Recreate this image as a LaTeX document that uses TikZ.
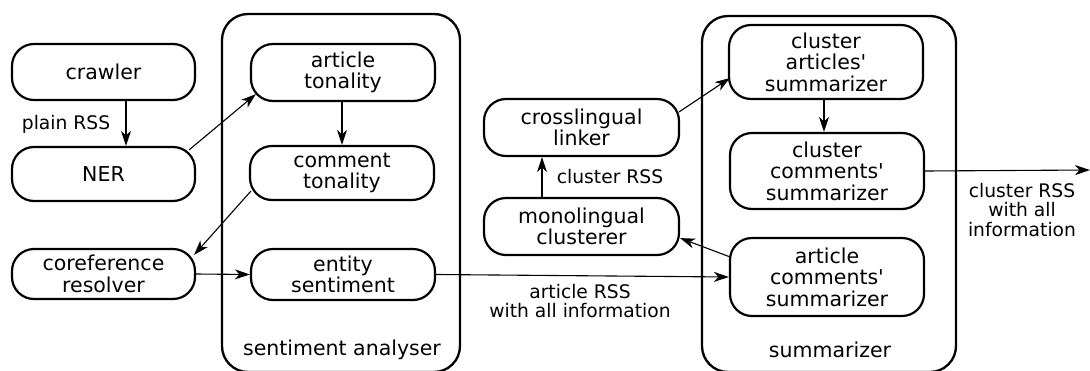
\documentclass[tikz,border=0pt]{standalone}
\usepackage{fontspec}
\setmainfont[Ligatures=TeXOff]{DejaVu Sans}
\usetikzlibrary{arrows.meta,calc}
\begin{document}
\begin{tikzpicture}[x=1pt,y=-1pt,
  every node/.style={font=\fontsize{20.5}{21.5}\selectfont, align=center, inner sep=0pt},
  proc/.style={draw, line width=2.2pt, rounded corners=22pt, minimum width=#1},
  proc/.default=183pt,
  group/.style={draw, line width=2.3pt, rounded corners=26pt},
  arr/.style={line width=1.1pt, -{Stealth[length=15pt,width=10pt,inset=4.5pt]}},
  lbl/.style={font=\fontsize{18.7}{19.5}\selectfont}
]
\useasboundingbox (0,0) rectangle (1090,370);
% containers
\node[group, minimum width=238pt, minimum height=358pt] (sa) at (341,193) {};
\node[group, minimum width=254pt, minimum height=356pt] (sum) at (829,194) {};
\node (salbl) at (342,350) {sentiment analyser};
\node (sumlbl) at (830,350) {summarizer};
% process nodes
\node[proc, minimum height=56pt] (crawler) at (103.5,72) {crawler};
\node[proc, minimum height=54pt] (ner) at (103.5,174) {NER};
\node[proc, minimum height=50pt] (coref) at (103.5,274) {coreference\\resolver};
\node[proc=184pt, minimum height=57pt] (at) at (343,72.5) {article\\tonality};
\node[proc=184pt, minimum height=54pt] (ct) at (342,173) {comment\\tonality};
\node[proc=184pt, minimum height=51pt] (es) at (343,274.5) {entity\\sentiment};
\node[proc=195pt, minimum height=57pt] (cross) at (581.5,127.5) {crosslingual\\linker};
\node[proc=195pt, minimum height=57pt] (mono) at (581.5,226.5) {monolingual\\clusterer};
\node[proc=194pt, minimum height=74pt] (cas) at (826,62) {cluster\\articles'\\summarizer};
\node[proc=194pt, minimum height=76pt] (ccs) at (827,171) {cluster\\comments'\\summarizer};
\node[proc=194pt, minimum height=78pt] (acs) at (827,277) {article\\comments'\\summarizer};
\coordinate (out) at (1090,170);
% labels
\node[lbl] (plainrss) at (66,124) {plain RSS};
\node[lbl] (clrss) at (610,177) {cluster RSS};
\node[lbl] (artrss) at (580,301) {article RSS\\with all information};
\node[lbl] (outlbl) at (1022,210) {cluster RSS\\with all\\information};
% connectors
\draw[arr] ($(crawler.south)+(22.5,0)$) -- ($(ner.north)+(22.5,0)$);
\draw[arr] ($(ner.north east)+(-7,4)$) -- ($(at.south west)+(6,-8)$);
\draw[arr] ($(at.south)+(-1,0)$) -- (ct.north);
\draw[arr] ($(ct.south west)+(2,-10)$) -- ($(coref.north east)+(-2,7)$);
\draw[arr] (coref.east) -- (es.west);
\draw[arr] (es.east) -- (acs.west);
\draw[arr] ($(acs.north west)+(1,20)$) -- ($(mono.south east)+(0,-18)$);
\draw[arr] ($(mono.north)+(-39.5,0)$) -- ($(cross.south)+(-39.5,0)$);
\draw[arr] ($(cross.north east)+(-1,14)$) -- ($(cas.west)+(2,16)$);
\draw[arr] ($(cas.south)+(-2,0)$) -- ($(ccs.north)+(-3,0)$);
\draw[arr] (ccs.east) -- (out);
\end{tikzpicture}
\end{document}
